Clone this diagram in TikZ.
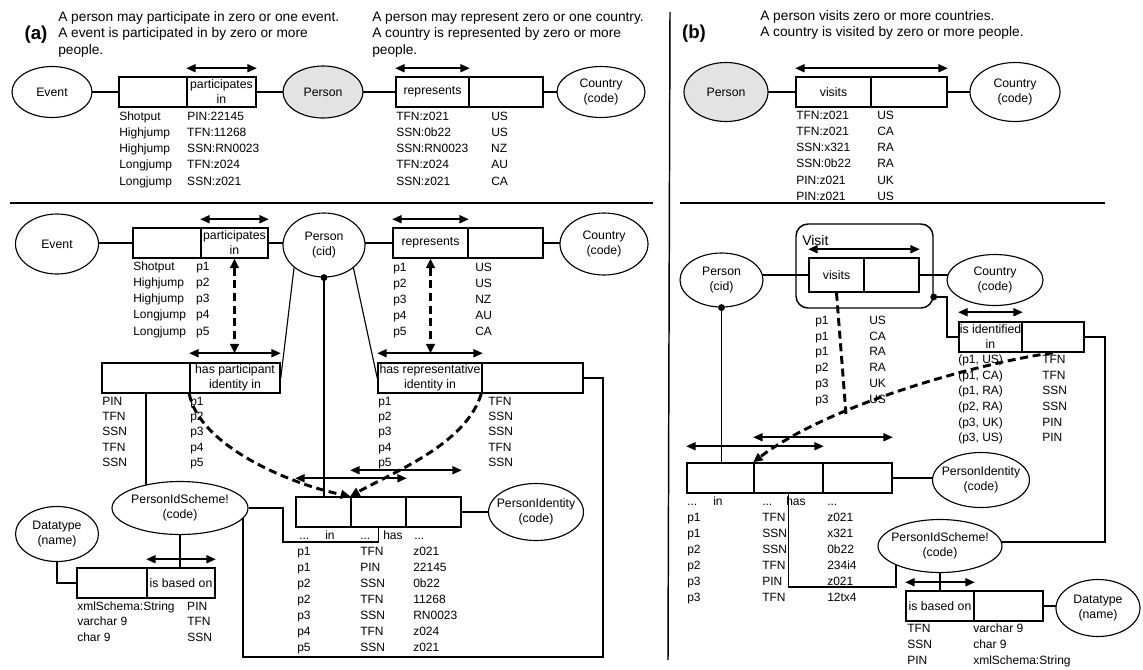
\documentclass[tikz,border=0pt]{standalone}
\usepackage{fontspec}
\setmainfont{Liberation Sans}
\usetikzlibrary{arrows.meta,shapes.geometric,backgrounds,calc}
\newcommand\tbl[5]{\node[tabnode] (#1) at (#2) {\fontsize{9}{#4}\selectfont\begin{tabular}[t]{@{}#3@{}}#5\end{tabular}};}
\begin{document}
\begin{tikzpicture}[x=0.75pt,y=-0.75pt,
  lbl/.style={font=\fontsize{9.2}{11.5}\selectfont,align=center,inner sep=0pt},
  ell/.style n args={3}{ellipse,draw,line width=0.85pt,fill=white,minimum width=#1*0.75pt,minimum height=#2*0.75pt,inner sep=0pt,label={[lbl]center:#3}},
  cell/.style 2 args={draw,line width=1.15pt,fill=white,minimum width=#1*0.75pt,minimum height=#2*0.75pt,inner sep=0pt,align=center,font=\fontsize{9.2}{11.25}\selectfont},
  conn/.style={line width=0.85pt},
  span/.style={line width=1.2pt,{Triangle[length=7pt,width=6pt]}-{Triangle[length=7pt,width=6pt]}},
  dsh/.style={line width=2.2pt,dash pattern=on 6pt off 3.5pt},
  dtip/.tip={Triangle[length=7pt,width=6.5pt]},
  tabnode/.style={anchor=base west,inner sep=0pt},
  head/.style={anchor=base west,inner sep=0pt,font=\fontsize{10.3}{12.4}\selectfont},
  hdr/.style={anchor=base west,inner sep=0pt,font=\fontsize{9}{11}\selectfont},
  sep/.style={line width=1.1pt},
  dot/.style={fill=black}
]
\useasboundingbox (0,0) rectangle (1143,669);
\begin{pgfonlayer}{background}
\fill[white] (0,0) rectangle (1143,669);
\end{pgfonlayer}

% headings
\node[font=\bfseries\fontsize{14}{16}\selectfont,inner sep=0pt] (la) at (36,35) {(a)};
\node[font=\bfseries\fontsize{14}{16}\selectfont,inner sep=0pt] (lb) at (694,34) {(b)};
\node[head] (h1a) at (58,21) {A person may participate in zero or one event.};
\node[head] (h1b) at (58,37.5) {A event is participated in by zero or more};
\node[head] (h1c) at (58,54) {people.};
\node[head] (h2a) at (372,21) {A person may represent zero or one country.};
\node[head] (h2b) at (372,37.5) {A country is represented by zero or more};
\node[head] (h2c) at (372,54) {people.};
\node[head] (h3a) at (760,20) {A person visits zero or more countries.};
\node[head] (h3b) at (760,36.5) {A country is visited by zero or more people.};

% separators
\draw[sep] (10,203) -- (653,203);
\draw[sep] (680,203) -- (1105,203);
\draw[sep] (670,12) -- (668,660);

% ---------- (a) top
\node[ell={80}{51}{Event}] (ev1) at (52,92) {};
\node[cell={68}{30}] (p1l) at (153,92) {};
\node[cell={69}{30}] (p1r) at (221.5,92) {participates\\in};
\node[ell={80}{52}{Person},fill=gray!22] (per1) at (323,92) {};
\node[cell={73}{30}] (r1l) at (432.5,92) {represents};
\node[cell={74}{30}] (r1r) at (506,92) {};
\node[ell={88}{51}{Country\\(code)}] (co1) at (601,92) {};
\draw[span] ([yshift=6pt]p1r.north west) -- ([yshift=6pt]p1r.north east);
\draw[span] ([yshift=6pt]r1l.north west) -- ([yshift=6pt]r1l.north east);
\tbl{t1}{119,120.3}{p{51pt}@{}l}{12.15}{Shotput & PIN:22145\\ Highjump & TFN:11268\\ Highjump & SSN:RN0023\\ Longjump & TFN:z024\\ Longjump & SSN:z021}
\tbl{t2}{396,120.3}{p{71.25pt}@{}l}{12.15}{TFN:z021 & US\\ SSN:0b22 & US\\ SSN:RN0023 & NZ\\ TFN:z024 & AU\\ SSN:z021 & CA}

% ---------- (b) top
\node[ell={84}{59}{Person},fill=gray!22] (per2) at (726,92) {};
\node[cell={75}{30}] (v1l) at (833.5,92) {visits};
\node[cell={76}{30}] (v1r) at (909,92) {};
\node[ell={90}{59}{Country\\(code)}] (co2) at (1015,92) {};
\draw[span] ([yshift=6pt]v1l.north west) -- ([yshift=6pt]v1r.north east);
\tbl{t3}{796,119.3}{p{60.75pt}@{}l}{12.15}{TFN:z021 & US\\ TFN:z021 & CA\\ SSN:x321 & RA\\ SSN:0b22 & RA\\ PIN:z021 & UK\\ PIN:z021 & US}

% ---------- (a) lower
\node[ell={83}{60}{Event}] (ev2) at (57,244) {};
\node[cell={68}{30}] (p2l) at (167,243) {};
\node[cell={67}{30}] (p2r) at (234.5,243) {participates\\in};
\node[ell={82}{64}{Person\\(cid)}] (per3) at (324,245) {};
\node[cell={75}{30}] (r2l) at (430.5,243) {represents};
\node[cell={75}{30}] (r2r) at (505.5,243) {};
\node[ell={88}{62}{Country\\(code)}] (co3) at (604,244) {};
\draw[span] ([yshift=6pt]p2r.north west) -- ([yshift=6pt]p2r.north east);
\draw[span] ([yshift=6pt]r2l.north west) -- ([yshift=6pt]r2l.north east);
\tbl{t4}{133,270.3}{p{47.25pt}@{}l}{12.15}{Shotput & p1\\ Highjump & p2\\ Highjump & p3\\ Longjump & p4\\ Longjump & p5}
\tbl{t5}{393,271}{p{61.5pt}@{}l}{12.15}{p1 & US\\ p2 & US\\ p3 & NZ\\ p4 & AU\\ p5 & CA}

\node[cell={88}{30}] (hpl) at (146,378) {};
\node[cell={90}{30}] (hpr) at (235,378) {has participant\\identity in};
\node[cell={104}{30}] (hrl) at (430,378) {has representative\\identity in};
\node[cell={101}{30}] (hrr) at (532.5,378) {};
\draw[span] ([yshift=6.75pt]hpr.north west) -- ([yshift=6.75pt]hpr.north east);
\draw[span] ([yshift=6.75pt]hrl.north west) -- ([yshift=6.75pt]hrl.north east);
\tbl{t6}{102,405.3}{p{66pt}@{}l}{11.5}{PIN & p1\\ TFN & p2\\ SSN & p3\\ TFN & p4\\ SSN & p5}
\tbl{t7}{378,405.3}{p{82.5pt}@{}l}{11.5}{p1 & TFN\\ p2 & SSN\\ p3 & SSN\\ p4 & TFN\\ p5 & SSN}

\node[cell={55}{30}] (pi1) at (323.5,512) {};
\node[cell={55}{30}] (pi2) at (378.5,512) {};
\node[cell={55}{30}] (pi3) at (433.5,512) {};
\node[ell={95}{57}{PersonIdentity\\(code)}] (pid1) at (536,512) {};
\node[ell={136}{53}{PersonIdScheme!\\(code)}] (pis1) at (180,508) {};
\node[cell={70}{30}] (ibl) at (112,583) {};
\node[cell={68}{30}] (ibr) at (181,583) {is based on};
\node[ell={83}{55}{Datatype\\(name)}] (dt1) at (57,534) {};
\draw[span] ([yshift=13.5pt]pi1.north west) -- ([yshift=13.5pt]pi2.north east);
\draw[span] ([yshift=19.5pt]pi2.north west) -- ([yshift=19.5pt]pi3.north east);
\draw[span] ([yshift=6pt]ibr.north west) -- ([yshift=6pt]ibr.north east);
\node[hdr] (ha1) at (299,539.3) {...};
\node[hdr] (ha2) at (325,539.3) {in};
\node[hdr] (ha3) at (360,539.3) {...};
\node[hdr] (ha4) at (383,539.3) {has};
\node[hdr] (ha5) at (414,539.3) {...};
\tbl{t9}{297,555.3}{p{47.25pt}@{}p{39.75pt}@{}l}{12}{p1 & TFN & z021\\ p1 & PIN & 22145\\ p2 & SSN & 0b22\\ p2 & TFN & 11268\\ p3 & SSN & RN0023\\ p4 & TFN & z024\\ p5 & SSN & z021}
\tbl{t8}{77,610.3}{p{82.5pt}@{}l}{11.6}{xmlSchema:String & PIN\\ varchar 9 & TFN\\ char 9 & SSN}

\coordinate (c1) at (603,657);
\coordinate (c2) at (243,657);
\coordinate (c3) at (283,542);

% ---------- (b) lower
\node[ell={83}{54}{Person\\(cid)}] (per4) at (721.5,280) {};
\node[draw,rounded corners=9pt,line width=1.1pt,minimum width=137*0.75pt,minimum height=84*0.75pt] (visit) at (864.5,266) {};
\node[inner sep=0pt,anchor=base west,font=\fontsize{10.5}{12}\selectfont] (visitlbl) at (802,245) {Visit};
\node[cell={55}{34}] (v2l) at (836.5,275) {visits};
\node[cell={55}{34}] (v2r) at (891.5,275) {};
\draw[span] ([yshift=6pt]v2l.north west) -- ([yshift=6pt]v2r.north east);
\node[ell={96}{51}{Country\\(code)}] (co4) at (995,280) {};
\coordinate (vd) at ([yshift=-23.25pt]visit.east);
\coordinate (vb) at (947,297);
\coordinate (vc) at (1105,542);
\coordinate (ve) at (896,587);
\coordinate (j) at (846,414);
\node[cell={63}{30}] (iil) at (990.5,337) {is identified\\in};
\node[cell={62}{30}] (iir) at (1053,337) {};
\draw[span] ([yshift=6.75pt]iil.north west) -- ([yshift=6.75pt]iil.north east);
\tbl{t10}{815,324.3}{p{40.5pt}@{}l}{11.85}{p1 & US\\ p1 & CA\\ p1 & RA\\ p2 & RA\\ p3 & UK\\ p3 & US}
\tbl{t11}{958,363.3}{p{63pt}@{}l}{11.8}{(p1, US) & TFN\\ (p1, CA) & TFN\\ (p1, RA) & SSN\\ (p2, RA) & SSN\\ (p3, UK) & PIN\\ (p3, US) & PIN}

\node[cell={67}{30}] (bpi1) at (720.5,478) {};
\node[cell={69}{30}] (bpi2) at (788.5,478) {};
\node[cell={69}{30}] (bpi3) at (857.5,478) {};
\node[ell={97}{55}{PersonIdentity\\(code)}] (pid2) at (981,480) {};
\draw[span] ([yshift=12pt]bpi1.north west) -- ([yshift=12pt]bpi2.north east);
\draw[span] ([yshift=18.75pt]bpi2.north west) -- ([yshift=18.75pt]bpi3.north east);
\node[hdr] (hb1) at (687,505.3) {...};
\node[hdr] (hb2) at (713,505.3) {in};
\node[hdr] (hb3) at (762,505.3) {...};
\node[hdr] (hb4) at (786,505.3) {has};
\node[hdr] (hb5) at (827,505.3) {...};
\tbl{t12}{687,521.3}{p{56.25pt}@{}p{48.75pt}@{}l}{12}{p1 & TFN & z021\\ p1 & SSN & x321\\ p2 & SSN & 0b22\\ p2 & TFN & 234i4\\ p3 & PIN & z021\\ p3 & TFN & 12tx4}
\node[ell={124}{53}{PersonIdScheme!\\(code)}] (pis2) at (940,546) {};
\node[cell={68}{30}] (ibl2) at (940,606) {is based on};
\node[cell={69}{30}] (ibr2) at (1008.5,606) {};
\draw[span] ([yshift=6pt]ibl2.north west) -- ([yshift=6pt]ibl2.north east);
\node[ell={84}{57}{Datatype\\(name)}] (dt2) at (1098,608) {};
\tbl{t13}{907,632.3}{p{49.5pt}@{}l}{12}{TFN & varchar 9\\ SSN & char 9\\ PIN & xmlSchema:String}

% ---------- connectors on background
\begin{pgfonlayer}{background}
\draw[conn] (p1l.west) -- (p1l.west -| ev1.center);
\draw[conn] (p1r.east) -- (p1r.east -| per1.center);
\draw[conn] (r1l.west) -- (r1l.west -| per1.center);
\draw[conn] (r1r.east) -- (r1r.east -| co1.center);
\draw[conn] (v1l.west) -- (v1l.west -| per2.center);
\draw[conn] (v1r.east) -- (v1r.east -| co2.center);

\draw[conn] (p2l.west) -- (p2l.west -| ev2.center);
\draw[conn] (p2r.east) -- (p2r.east -| per3.center);
\draw[conn] (r2l.west) -- (r2l.west -| per3.center);
\draw[conn] (r2r.east) -- (r2r.east -| co3.center);
\draw[conn] (per3.217) -- (hpr.east);
\draw[conn] (per3.322) -- (hrl.west);
\draw[conn] (per3.south) -- (per3.south |- pi1.north);
\draw[conn] (hpl.south) -- (hpl.south |- pis1.center);
\draw[conn] (hrr.east) -| (c1) -- (c2) -- (c2 |- pis1.center);
\draw[conn] (pis1.east) -| (c3) -| (pi2.south);
\draw[conn] (pi3.east) -- (pi3.east -| pid1.center);
\draw[conn] (pis1.center) -- (pis1.center |- ibr.north);
\draw[conn] (dt1.center) |- (ibl.west);

\draw[conn] (v2l.west) -- (v2l.west -| per4.center);
\draw[conn] (v2r.east) -- (v2r.east -| co4.center);
\draw[conn] (vd) -- (vb) |- (iil.west);
\draw[conn] (iir.east) -| (vc) -- (vc -| pis2.center);
\draw[conn] (bpi2.south) |- (ve) -- (ve |- pis2.center);
\draw[conn] (per4.south) -- (per4.south |- bpi1.north);
\draw[conn] (bpi3.east) -- (bpi3.east -| pid2.center);
\draw[conn] (pis2.center) -- (pis2.center |- ibl2.north);
\draw[conn] (ibr2.east) -- (ibr2.east -| dt2.center);
\end{pgfonlayer}

\fill[dot] (per3.south) circle (2.6pt);
\fill[dot] (per4.south) circle (2.6pt);
\fill[dot] (vd) circle (2.6pt);

% ---------- dashed
\draw[dsh,dtip-dtip] (p2r.south) -- ($(p2r.south |- hpr.north)+(0,-9)$);
\draw[dsh,dtip-dtip] (r2l.south) -- ($(r2l.south |- hrl.north)+(0,-9)$);
\draw[dsh,-dtip] (hpr.south west) .. controls +(10,52) and +(-60,-12) .. (pi2.north west);
\draw[dsh,-dtip] (hrr.south west) .. controls +(-15,50) and +(45,-25) .. (pi2.north west);
\draw[dsh] (v2l.south) -- (j);
\draw[dsh,-dtip] (iir.south) .. controls +(-73,10) and +(76,-58) .. (bpi2.north west);
\end{tikzpicture}
\end{document}
